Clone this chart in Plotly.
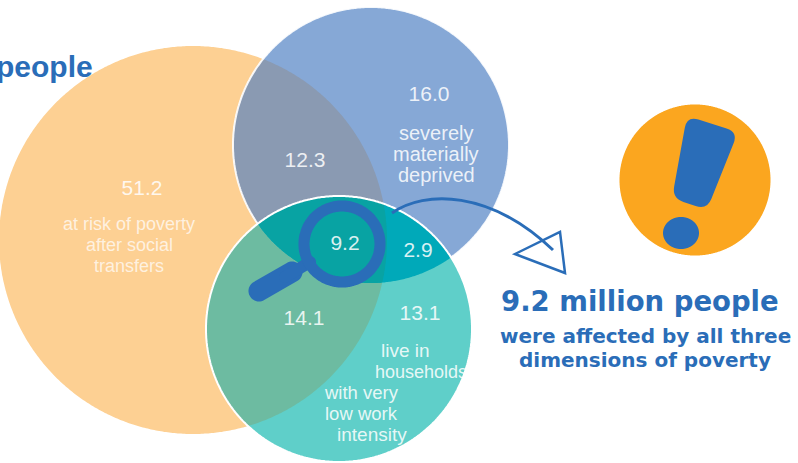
import numpy as np
import plotly.graph_objects as go

# Venn regions, millions of people
region_names = ["poverty_only", "deprived_only", "work_only", "poverty_deprived",
                "poverty_work", "deprived_work", "all_three"]
region_values = [51.2, 16.0, 13.1, 12.3, 14.1, 2.9, 9.2]
region_label_x = [142, 429, 420, 305, 304, 418, 345]
region_label_y = [190, 96, 315, 162, 320, 252, 245]

poverty_lines = ["at risk of poverty", "after social", "transfers"]
deprived_lines = ["severely", "materially", "deprived"]
work_lines = ["live in", "households", "with very", "low work", "intensity"]
work_line_x = [405, 421, 361, 361, 372]
work_line_y = [350, 372, 392, 413, 434]
work_line_size = [19, 18, 18.5, 18.5, 19]

headline = "9.2 million people"
subline = ["were affected by all three", "dimensions of poverty"]

# Circles: centre x, centre y, radius
POVERTY = (193, 240, 194)
DEPRIVED = (371, 145, 138)
WORK = (339, 329, 133)

BLUE = "#2A6DB8"
PALE = "rgba(255,255,255,0.86)"
PALE_ON_ORANGE = "rgba(255,255,255,0.72)"


def circle_pts(c, n=720, squash=1.0):
    t = np.linspace(0, 2 * np.pi, n, endpoint=False)
    return np.c_[c[0] + c[2] * np.cos(t), c[1] + c[2] * squash * np.sin(t)]


def inside(pts, c):
    return np.hypot(pts[:, 0] - c[0], pts[:, 1] - c[1]) <= c[2]


def overlap(*circles):
    # Intersection of circles is convex, so its boundary points sort by angle
    kept = []
    for i, c in enumerate(circles):
        pts = circle_pts(c)
        for j, other in enumerate(circles):
            if i != j:
                pts = pts[inside(pts, other)]
        kept.append(pts)
    pts = np.vstack(kept)
    mid = pts.mean(axis=0)
    order = np.argsort(np.arctan2(pts[:, 1] - mid[1], pts[:, 0] - mid[0]))
    return pts[order]


def path(pts):
    return "M" + "L".join(f"{x:.1f},{y:.1f}" for x, y in pts) + "Z"


def rounded(corners, r):
    # Closed polygon with quadratic corners
    corners = np.array(corners, float)
    n = len(corners)
    d = ""
    for i in range(n):
        p, a, b = corners[i], corners[i - 1], corners[(i + 1) % n]
        p1 = p + (a - p) / np.linalg.norm(a - p) * r
        p2 = p + (b - p) / np.linalg.norm(b - p) * r
        d += f"{'M' if i == 0 else 'L'}{p1[0]:.1f},{p1[1]:.1f}Q{p[0]:.1f},{p[1]:.1f} {p2[0]:.1f},{p2[1]:.1f}"
    return d + "Z"


def capsule(a, b, w):
    a, b = np.array(a, float), np.array(b, float)
    ang = np.arctan2(*(b - a)[::-1])
    t = np.linspace(-np.pi / 2, np.pi / 2, 24)
    end_b = np.c_[b[0] + w / 2 * np.cos(ang + t), b[1] + w / 2 * np.sin(ang + t)]
    end_a = np.c_[a[0] + w / 2 * np.cos(ang + np.pi + t), a[1] + w / 2 * np.sin(ang + np.pi + t)]
    return path(np.vstack([end_b, end_a]))


def fill(d, color):
    return dict(type="path", path=d, fillcolor=color, line=dict(width=0), layer="below")


def outline(d, color, width):
    return dict(type="path", path=d, fillcolor="rgba(0,0,0,0)",
                line=dict(color=color, width=width), layer="below")


shapes = [
    fill(path(circle_pts(POVERTY)), "#FDD093"),
    fill(path(circle_pts(DEPRIVED)), "#86A8D6"),
    fill(path(overlap(POVERTY, DEPRIVED)), "#8A9AB2"),
    outline(path(circle_pts(DEPRIVED)), "rgba(255,255,255,0.9)", 2),
    fill(path(circle_pts(WORK)), "#5FCFC9"),
    fill(path(overlap(POVERTY, WORK)), "#6DBBA1"),
    fill(path(overlap(DEPRIVED, WORK)), "#00A9B9"),
    fill(path(overlap(POVERTY, DEPRIVED, WORK)), "#08A3A3"),
    outline(path(circle_pts(WORK)), "#FFFFFF", 2),
    # Magnifying glass
    fill(capsule((259, 291), (292, 272), 21), BLUE),
    fill(capsule((285, 277), (310, 262), 12), BLUE),
    outline(path(circle_pts((342, 244, 38))), BLUE, 11),
    # Exclamation badge
    fill(path(circle_pts((695, 180, 75.5))), "#FBA61F"),
    fill(rounded([(687, 116), (738, 132), (707, 210), (672, 198)], 12), BLUE),
    fill(path(circle_pts((681, 233, 18), squash=0.89)), BLUE),
    # Curved arrow with an open head
    outline("M392,213C425,190 490,190 553,250", BLUE, 3),
    outline("M515,254L560,232L565,273Z", BLUE, 2.5),
]

fig = go.Figure()
fig.add_trace(go.Scatter(
    x=region_label_x, y=region_label_y, mode="text",
    text=[f"{v:.1f}" for v in region_values], cliponaxis=False, hoverinfo="skip",
    textfont=dict(family="Liberation Sans", size=21, color=PALE),
))


def label(text, x, y, size, color=PALE, bold=False, anchor="center", family="Liberation Sans"):
    fig.add_annotation(
        x=x, y=y, text=f"<b>{text}</b>" if bold else text, showarrow=False,
        xanchor=anchor, yanchor="middle", borderpad=0,
        font=dict(family=family, size=size, color=color),
    )


for i, line in enumerate(poverty_lines):
    label(line, 129, 224 + i * 21, 18, PALE_ON_ORANGE)
for i, line in enumerate(deprived_lines):
    label(line, 436, 133 + i * 21, 20)
for line, x, y, size in zip(work_lines, work_line_x, work_line_y, work_line_size):
    label(line, x, y, size)

label("people", 94, 66, 30, BLUE, True, "right")
label(headline, 640, 301, 27.5, BLUE, True, family="DejaVu Sans")
label(subline[0], 645, 336, 20, BLUE, True, family="DejaVu Sans")
label(subline[1], 645, 360, 20, BLUE, True, family="DejaVu Sans")

fig.update_layout(
    width=798, height=463, margin=dict(l=0, r=0, t=0, b=0),
    paper_bgcolor="white", plot_bgcolor="white", showlegend=False, shapes=shapes,
    xaxis=dict(range=[0, 798], visible=False, fixedrange=True),
    yaxis=dict(range=[463, 0], visible=False, fixedrange=True),
)
fig.write_html("out.html", config={"displayModeBar": False})
